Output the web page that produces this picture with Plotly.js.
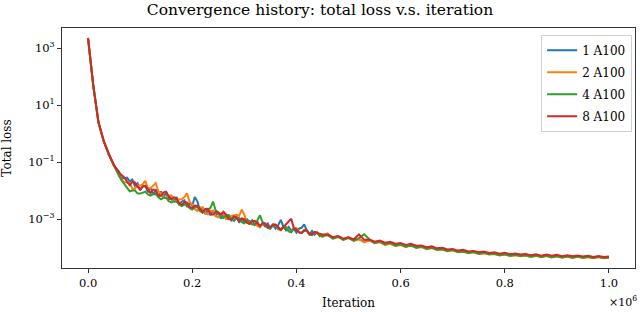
<!DOCTYPE html>
<html>
<head>
<meta charset="utf-8">
<script src="https://cdn.plot.ly/plotly-3.0.1.min.js"></script>
<style>html,body{margin:0;padding:0;background:#fff;}#chart{width:640px;height:312px;}</style>
</head>
<body>
<div id="chart"></div>
<script>
// Iteration, in millions (axis shows ×10^6)
const iterationMillions = [0, 0.005, 0.01, 0.02, 0.03, 0.04, 0.05,
 0.060, 0.065, 0.070, 0.075, 0.080, 0.085, 0.090, 0.095, 0.100, 0.105,
 0.110, 0.115, 0.120, 0.125, 0.130, 0.135, 0.140, 0.145, 0.150, 0.155,
 0.160, 0.165, 0.170, 0.175, 0.180, 0.185, 0.190, 0.195, 0.200, 0.205,
 0.210, 0.215, 0.220, 0.225, 0.230, 0.235, 0.240, 0.245, 0.250, 0.255,
 0.260, 0.265, 0.270, 0.275, 0.280, 0.285, 0.290, 0.295, 0.300, 0.305,
 0.310, 0.315, 0.320, 0.325, 0.330, 0.335, 0.340, 0.345, 0.350, 0.355,
 0.360, 0.365, 0.370, 0.375, 0.380, 0.385, 0.390, 0.395, 0.400, 0.405,
 0.410, 0.415, 0.420, 0.425, 0.430, 0.435, 0.440, 0.445, 0.450,
 0.46, 0.47, 0.48, 0.49,
 0.50, 0.51, 0.52, 0.53, 0.54, 0.55, 0.56, 0.57, 0.58, 0.59,
 0.60, 0.61, 0.62, 0.63, 0.64, 0.65, 0.66, 0.67, 0.68, 0.69,
 0.70, 0.71, 0.72, 0.73, 0.74, 0.75, 0.76, 0.77, 0.78, 0.79,
 0.80, 0.81, 0.82, 0.83, 0.84, 0.85, 0.86, 0.87, 0.88, 0.89,
 0.90, 0.91, 0.92, 0.93, 0.94, 0.95, 0.96, 0.97, 0.98, 0.99, 1.00];

// Total loss, stored as log10 exponents
const log10Loss1A100 = [3.35, 2.45, 1.70, 0.40, -0.25, -0.72, -1.12,
 -1.34, -1.57, -1.56, -1.54, -1.68, -1.61, -1.83, -1.74, -1.98, -1.85,
 -1.83, -2.05, -1.89, -2.12, -1.99, -2.21, -2.02, -2.22, -2.07, -2.31,
 -2.17, -2.37, -2.22, -2.48, -2.38, -2.34, -2.57, -2.43, -2.52, -2.22,
 -2.38, -2.70, -2.59, -2.82, -2.69, -2.86, -2.68, -2.89, -2.75, -2.98,
 -2.82, -2.98, -2.84, -3.04, -2.94, -2.90, -3.12, -2.96, -3.12, -2.98,
 -3.18, -3.04, -3.20, -3.08, -3.26, -3.14, -3.25, -3.15, -3.32, -3.20,
 -3.33, -3.21, -3.02, -3.26, -3.39, -3.27, -3.40, -3.32, -3.47, -3.33,
 -3.30, -3.18, -3.40, -3.53, -3.41, -3.54, -3.46, -3.59, -3.54,
 -3.56, -3.66, -3.60, -3.70,
 -3.64, -3.74, -3.69, -3.79, -3.74, -3.82, -3.77, -3.86, -3.82, -3.89,
 -3.86, -3.94, -3.91, -3.98, -3.94, -4.01, -3.99, -4.06, -4.03, -4.09,
 -4.07, -4.14, -4.11, -4.16, -4.14, -4.19, -4.16, -4.21, -4.20, -4.24,
 -4.22, -4.26, -4.24, -4.27, -4.25, -4.29, -4.27, -4.30, -4.28, -4.31,
 -4.29, -4.32, -4.30, -4.33, -4.31, -4.33, -4.31, -4.34, -4.32, -4.35, -4.33];

const log10Loss2A100 = [3.35, 2.44, 1.69, 0.41, -0.24, -0.73, -1.13,
 -1.42, -1.63, -1.70, -1.72, -1.72, -1.93, -1.93, -1.82, -1.82, -1.77,
 -1.65, -1.91, -1.91, -1.82, -1.73, -2.03, -2.08, -2.22, -2.25, -2.17,
 -2.17, -2.37, -2.38, -2.30, -2.30, -2.22, -2.09, -2.39, -2.48, -2.64,
 -2.71, -2.58, -2.59, -2.78, -2.83, -2.70, -2.70, -2.89, -2.93, -2.80,
 -2.80, -2.98, -2.98, -2.88, -2.86, -2.84, -2.88, -2.66, -2.84, -3.12,
 -3.16, -3.08, -3.06, -3.24, -3.28, -3.16, -3.15, -3.29, -3.32, -3.20,
 -3.19, -3.35, -3.38, -3.28, -3.27, -3.39, -3.44, -3.32, -3.31, -3.45,
 -3.48, -3.40, -3.41, -3.53, -3.56, -3.46, -3.46, -3.58, -3.62,
 -3.50, -3.67, -3.60, -3.73,
 -3.63, -3.76, -3.70, -3.81, -3.74, -3.84, -3.81, -3.90, -3.86, -3.94,
 -3.90, -3.98, -3.90, -4.01, -3.98, -4.05, -4.01, -4.08, -4.06, -4.12,
 -4.09, -4.16, -4.14, -4.19, -4.16, -4.22, -4.19, -4.24, -4.22, -4.27,
 -4.24, -4.29, -4.26, -4.30, -4.27, -4.32, -4.28, -4.33, -4.29, -4.34,
 -4.30, -4.35, -4.31, -4.36, -4.32, -4.36, -4.33, -4.37, -4.33, -4.37, -4.35];

const log10Loss4A100 = [3.34, 2.45, 1.71, 0.39, -0.26, -0.74, -1.15,
 -1.50, -1.65, -1.76, -1.90, -2.02, -1.99, -1.99, -2.10, -2.10, -2.07,
 -2.03, -2.13, -2.17, -2.12, -2.11, -2.23, -2.30, -2.24, -2.25, -2.37,
 -2.41, -2.37, -2.38, -2.48, -2.54, -2.49, -2.49, -2.61, -2.66, -2.58,
 -2.57, -2.72, -2.77, -2.68, -2.67, -2.60, -2.38, -2.69, -2.75, -2.92,
 -2.96, -2.86, -2.86, -3.00, -3.06, -2.96, -2.96, -3.10, -3.14, -3.04,
 -3.06, -3.18, -3.20, -3.04, -2.86, -3.10, -3.17, -3.31, -3.32, -3.20,
 -3.21, -3.33, -3.38, -3.26, -3.29, -3.43, -3.46, -3.34, -3.35, -3.47,
 -3.48, -3.40, -3.39, -3.53, -3.56, -3.46, -3.48, -3.59, -3.60,
 -3.55, -3.68, -3.62, -3.72,
 -3.66, -3.75, -3.66, -3.53, -3.70, -3.83, -3.78, -3.88, -3.83, -3.93,
 -3.89, -3.96, -3.92, -4.00, -3.96, -4.03, -4.00, -4.07, -4.05, -4.11,
 -4.08, -4.15, -4.13, -4.18, -4.15, -4.21, -4.18, -4.23, -4.21, -4.26,
 -4.23, -4.28, -4.25, -4.29, -4.26, -4.31, -4.27, -4.32, -4.28, -4.33,
 -4.29, -4.34, -4.30, -4.35, -4.31, -4.35, -4.32, -4.36, -4.32, -4.36, -4.34];

const log10Loss8A100 = [3.36, 2.46, 1.70, 0.40, -0.25, -0.71, -1.11,
 -1.38, -1.45, -1.54, -1.68, -1.80, -1.69, -1.71, -1.86, -1.96, -1.85,
 -1.83, -1.95, -2.09, -1.96, -1.97, -2.17, -2.18, -2.06, -2.03, -2.21,
 -2.31, -2.23, -2.28, -2.44, -2.50, -2.40, -2.41, -2.57, -2.60, -2.52,
 -2.53, -2.64, -2.75, -2.64, -2.63, -2.82, -2.84, -2.75, -2.77, -2.84,
 -2.74, -2.84, -3.00, -3.00, -2.90, -2.96, -3.06, -2.98, -3.00, -3.12,
 -3.16, -3.06, -3.06, -3.14, -3.24, -3.14, -3.15, -3.27, -3.28, -3.18,
 -3.19, -3.27, -3.36, -3.28, -3.19, -3.09, -2.98, -3.30, -3.37, -3.45,
 -3.48, -3.38, -3.39, -3.51, -3.52, -3.44, -3.48, -3.52, -3.54,
 -3.53, -3.63, -3.59, -3.68,
 -3.63, -3.71, -3.53, -3.72, -3.71, -3.79, -3.75, -3.82, -3.79, -3.86,
 -3.83, -3.90, -3.86, -3.93, -3.92, -3.98, -3.95, -4.02, -4.00, -4.06,
 -4.04, -4.10, -4.07, -4.13, -4.11, -4.16, -4.13, -4.18, -4.16, -4.21,
 -4.18, -4.23, -4.20, -4.24, -4.22, -4.26, -4.23, -4.28, -4.24, -4.28,
 -4.25, -4.30, -4.26, -4.30, -4.27, -4.31, -4.28, -4.32, -4.29, -4.32, -4.31];

const seriesNames = ['1 A100', '2 A100', '4 A100', '8 A100'];
const seriesColors = ['#1f77b4', '#ff7f0e', '#2ca02c', '#d62728'];
const seriesLogValues = [log10Loss1A100, log10Loss2A100, log10Loss4A100, log10Loss8A100];

const yTickVals = [1e-3, 1e-1, 1e1, 1e3];
const yTickText = ['10<sup>\u22123</sup>', '10<sup>\u22121</sup>', '10<sup>1</sup>', '10<sup>3</sup>'];
const xTickVals = [0, 0.2, 0.4, 0.6, 0.8, 1.0];

const FONT = '"DejaVu Serif", "Liberation Serif", serif';

const traces = seriesNames.map((name, i) => ({
  x: iterationMillions,
  y: seriesLogValues[i].map(v => Math.pow(10, v)),
  type: 'scatter',
  mode: 'lines',
  name: name,
  legendgroup: 'g' + i,
  line: {color: seriesColors[i], width: 2}
}));

const layout = {
  width: 640, height: 312,
  margin: {l: 62, r: 5, t: 28, b: 44},
  paper_bgcolor: '#fff', plot_bgcolor: '#fff',
  font: {family: FONT, size: 11.5, color: '#000'},
  title: {text: 'Convergence history: total loss v.s. iteration', font: {family: FONT, size: 15.5, color: '#000'},
          x: 0.5, xref: 'container', xanchor: 'center', y: 0.968, yanchor: 'middle'},
  xaxis: {
    range: [-0.05, 1.05], tickvals: xTickVals, tickformat: '.1f',
    showgrid: false, zeroline: false,
    showline: true, mirror: true, linecolor: '#333', linewidth: 1,
    ticks: 'outside', ticklen: 4, tickcolor: '#333',
    tickfont: {family: FONT, size: 11.5},
    title: {text: 'Iteration', font: {family: FONT, size: 12}, standoff: 9}
  },
  yaxis: {
    type: 'log', range: [-4.71, 3.71],
    tickvals: yTickVals, ticktext: yTickText,
    showgrid: false, zeroline: false,
    showline: true, mirror: true, linecolor: '#333', linewidth: 1,
    ticks: 'outside', ticklen: 4, tickcolor: '#333',
    tickfont: {family: FONT, size: 11.5},
    title: {text: 'Total loss', font: {family: FONT, size: 12}, standoff: 13}
  },
  legend: {
    x: 0.995, xanchor: 'right', y: 0.972, yanchor: 'top',
    bgcolor: 'rgba(255,255,255,0.85)', bordercolor: '#d0d0d0', borderwidth: 1,
    font: {family: FONT, size: 12},
    tracegroupgap: 3, traceorder: 'grouped', itemwidth: 30
  },
  annotations: [{
    text: '\u00d710<sup>6</sup>', xref: 'paper', yref: 'paper', x: 1, y: -0.14,
    xanchor: 'right', yanchor: 'middle', xshift: 4, showarrow: false,
    font: {family: FONT, size: 11}
  }],
  showlegend: true
};

Plotly.newPlot('chart', traces, layout, {displayModeBar: false, staticPlot: true});
</script>
</body>
</html>
